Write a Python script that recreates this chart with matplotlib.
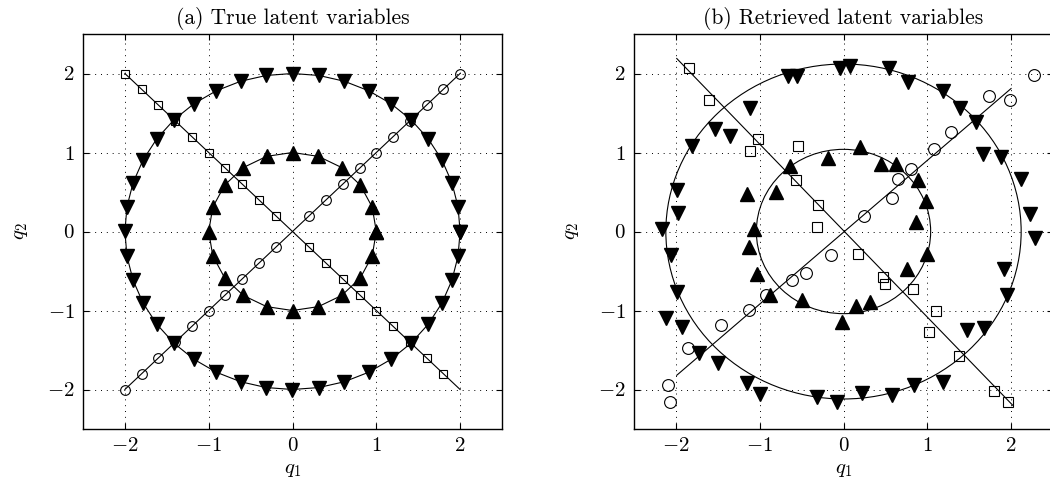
import numpy as np
import matplotlib
matplotlib.use("Agg")
import matplotlib.pyplot as plt
from matplotlib.patches import Circle

plt.rcParams['mathtext.fontset'] = 'cm'
plt.rcParams['font.family'] = ['cmr10', 'DejaVu Serif']
plt.rcParams['axes.formatter.use_mathtext'] = True

# ---- (a) true latent variables ----
outer_radius = 2.0
outer_angles = [0, 9, 18, 27, 36, 45, 54, 63, 72, 81, 90, 99, 108, 117, 126,
                135, 144, 153, 162, 171, 180, 189, 198, 207, 216, 225, 234,
                243, 252, 261, 270, 279, 288, 297, 306, 315, 324, 333, 342, 351]
inner_radius = 1.0
inner_angles = [0, 18, 36, 54, 72, 90, 108, 126, 144, 162, 180, 198, 216,
                234, 252, 270, 288, 306, 324, 342]
circ_pos = [-2.0, -1.8, -1.6, -1.4, -1.2, -1.0, -0.8, -0.6, -0.4, -0.2,
            0.2, 0.4, 0.6, 0.8, 1.0, 1.2, 1.4, 1.6, 1.8, 2.0]
sq_pos = [-2.0, -1.8, -1.6, -1.4, -1.2, -1.0, -0.8, -0.6, -0.4, -0.2,
          0.2, 0.4, 0.6, 0.8, 1.0, 1.2, 1.4, 1.6, 1.8]
diag_ends = [-2.0, 2.0]

# ---- (b) retrieved latent variables ----
down_x = [-0.66, -0.55, -1.12, -1.53, -1.35, -1.81, -1.99, -1.98, -2.17,
          -0.04, 0.08, 0.54, 0.77, 1.19, 1.39, 1.58, 1.67, 1.88, 2.12, 2.23, 2.28,
          -2.06, -1.99, -2.12, -1.93, -1.72, -1.50, -1.15, -1.00, -0.32,
          1.91, 1.95, 1.47, 1.68, 1.19, 0.84, 0.58, 0.22, -0.08]
down_y = [1.97, 1.97, 1.56, 1.30, 1.21, 1.08, 0.52, 0.24, 0.03,
          2.07, 2.10, 2.07, 1.89, 1.78, 1.56, 1.38, 0.98, 0.94, 0.66, 0.22, -0.08,
          -0.30, -0.77, -1.09, -1.21, -1.54, -1.66, -1.92, -2.06, -2.10,
          -0.47, -0.81, -1.25, -1.22, -1.90, -1.94, -2.07, -2.04, -2.16]
up_x = [-0.64, -0.80, -1.15, -1.07, -0.19, 0.20, 0.45, 0.63, 0.89, 0.99, 0.87,
        -1.13, -1.03, -0.88, -0.50, 1.00, 0.76, 0.15, 0.32, -0.02]
up_y = [0.83, 0.50, 0.47, 0.03, 0.93, 1.07, 0.85, 0.86, 0.65, 0.38, 0.12,
        -0.19, -0.54, -0.80, -0.87, -0.28, -0.47, -0.94, -0.89, -1.14]
o_x = [2.27, 1.74, 1.99, 1.28, 1.08, 0.81, 0.65, 0.58, 0.25,
       -2.10, -2.07, -1.86, -1.46, -1.13, -0.92, -0.61, -0.45, -0.15]
o_y = [1.98, 1.72, 1.67, 1.26, 1.04, 0.79, 0.66, 0.42, 0.20,
       -1.94, -2.16, -1.48, -1.18, -0.99, -0.81, -0.62, -0.52, -0.30]
s_x = [-1.84, -1.61, -1.02, -1.12, -0.54, -0.57, -0.31, -0.32,
       0.17, 0.47, 0.50, 0.83, 1.10, 1.02, 1.38, 1.79, 1.96]
s_y = [2.07, 1.67, 1.17, 1.02, 1.08, 0.65, 0.33, 0.06,
       -0.29, -0.58, -0.66, -0.73, -1.00, -1.27, -1.57, -2.02, -2.16]
fit_outer_r = 2.12
fit_inner_r = 1.04
fit_circ_line_x = [-1.99, 2.00]
fit_circ_line_y = [-1.82, 1.81]
fit_sq_line_x = [-1.99, 2.02]
fit_sq_line_y = [2.19, -2.20]

ticks = [-2, -1, 0, 1, 2]
tick_labels = [r'$-2$', r'$-1$', r'$0$', r'$1$', r'$2$']

fig = plt.figure(figsize=(10.5, 4.78), dpi=100)
ax_a = fig.add_axes([83 / 1050, 49 / 478, 419 / 1050, 395 / 478])
ax_b = fig.add_axes([634 / 1050, 49 / 478, 419 / 1050, 395 / 478])

lw = 0.8
# panel (a)
oa = np.deg2rad(outer_angles + [outer_angles[0]])
ax_a.plot(outer_radius * np.cos(oa), outer_radius * np.sin(oa), 'k-', lw=lw,
          marker='v', ms=9.5, mfc='k', mec='k')
ia = np.deg2rad(inner_angles + [inner_angles[0]])
ax_a.plot(inner_radius * np.cos(ia), inner_radius * np.sin(ia), 'k-', lw=lw,
          marker='^', ms=9.5, mfc='k', mec='k')
ax_a.plot(diag_ends, diag_ends, 'k-', lw=lw)
ax_a.plot(diag_ends, [-d for d in diag_ends], 'k-', lw=lw)
ax_a.plot(circ_pos, circ_pos, 'o', ms=7, mfc='none', mec='k', mew=0.8)
ax_a.plot(sq_pos, [-p for p in sq_pos], 's', ms=6, mfc='none', mec='k', mew=0.8)

# panel (b)
ax_b.add_patch(Circle((0, 0), fit_outer_r, fill=False, ec='k', lw=lw))
ax_b.add_patch(Circle((0, 0), fit_inner_r, fill=False, ec='k', lw=lw))
ax_b.plot(fit_circ_line_x, fit_circ_line_y, 'k-', lw=lw)
ax_b.plot(fit_sq_line_x, fit_sq_line_y, 'k-', lw=lw)
ax_b.plot(down_x, down_y, 'v', ms=9.5, mfc='k', mec='k')
ax_b.plot(up_x, up_y, '^', ms=9.5, mfc='k', mec='k')
ax_b.plot(o_x, o_y, 'o', ms=8.5, mfc='none', mec='k', mew=0.8)
ax_b.plot(s_x, s_y, 's', ms=7, mfc='none', mec='k', mew=0.8)

titles = ['(a) True latent variables', '(b) Retrieved latent variables']
for ax, title in zip([ax_a, ax_b], titles):
    ax.set_xlim(-2.5, 2.5)
    ax.set_ylim(-2.5, 2.5)
    ax.set_xticks(ticks)
    ax.set_yticks(ticks)
    ax.set_xticklabels(tick_labels, fontsize=15)
    ax.set_yticklabels(tick_labels, fontsize=15)
    ax.tick_params(direction='in', top=True, right=True, length=4, width=0.8, pad=6)
    ax.grid(True, color='k', linestyle=(0, (1, 5)), lw=0.7)
    for sp in ax.spines.values():
        sp.set_linewidth(1.0)
    ax.set_title(title, fontsize=15.5, pad=7)
    ax.set_xlabel(r'$q_1$', fontsize=15, labelpad=4)
    ax.set_ylabel(r'$q_2$', fontsize=15, labelpad=12)

fig.savefig('out.png', dpi=100)
